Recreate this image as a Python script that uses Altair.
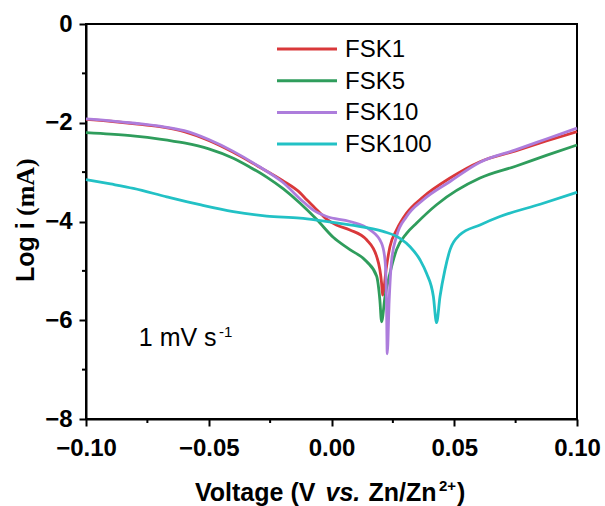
import altair as alt
import pandas as pd

series = ["FSK1", "FSK5", "FSK10", "FSK100"]
colors = ["#d9383a", "#2f9d5c", "#ad7ddc", "#22c1c5"]

fsk1_v = [-0.100, -0.090, -0.080, -0.070, -0.060, -0.050, -0.040, -0.030, -0.020, -0.0128,
          -0.0101, -0.0060, -0.0020, 0.0020, 0.0075, 0.0143, 0.0184, 0.0204, 0.0208, 0.0224, 0.0238, 0.0265,
          0.0306, 0.0374, 0.0483, 0.0605, 0.075, 0.0875, 0.100]
fsk1_i = [-1.93, -1.97, -2.02, -2.08, -2.18, -2.36, -2.60, -2.88, -3.17, -3.42,
          -3.56, -3.76, -3.95, -4.07, -4.17, -4.37, -4.71, -5.25, -5.49, -4.91, -4.51, -4.17,
          -3.83, -3.50, -3.12, -2.79, -2.57, -2.37, -2.18]

fsk5_v = [-0.100, -0.090, -0.080, -0.070, -0.060, -0.050, -0.040, -0.0332, -0.0264, -0.0196, -0.0128,
          -0.0060, 0.0007, 0.0075, 0.0143, 0.0184, 0.0197, 0.0204, 0.0218, 0.0238, 0.0265, 0.0306,
          0.0347, 0.0428, 0.0605, 0.075, 0.0875, 0.100]
fsk5_i = [-2.20, -2.23, -2.27, -2.33, -2.41, -2.53, -2.72, -2.90, -3.10, -3.34, -3.63,
          -3.96, -4.32, -4.57, -4.81, -5.11, -5.59, -6.03, -5.52, -5.05, -4.57, -4.24,
          -4.03, -3.66, -3.12, -2.88, -2.66, -2.45]

fsk10_v = [-0.100, -0.090, -0.080, -0.070, -0.060, -0.050, -0.040, -0.030, -0.020, -0.0115,
           -0.0074, -0.0020, 0.0075, 0.0157, 0.0204, 0.0218, 0.0224, 0.0227, 0.0235, 0.0245, 0.0265,
           0.0306, 0.0374, 0.0483, 0.0605, 0.075, 0.0875, 0.100]
fsk10_i = [-1.92, -1.96, -2.01, -2.07, -2.16, -2.34, -2.58, -2.87, -3.20, -3.60,
           -3.77, -3.90, -4.00, -4.17, -4.44, -4.78, -5.59, -6.68, -5.59, -4.78, -4.30,
           -3.90, -3.56, -3.19, -2.80, -2.55, -2.33, -2.11]

fsk100_v = [-0.100, -0.090, -0.0807, -0.0671, -0.0536, -0.040, -0.0264, -0.0128, -0.0060, 0.0075,
            0.0210, 0.0279, 0.0320, 0.0361, 0.0387, 0.0415, 0.0428, 0.0442, 0.0462, 0.0483, 0.0523,
            0.0605, 0.0686, 0.085, 0.100]
fsk100_i = [-3.15, -3.24, -3.33, -3.50, -3.66, -3.80, -3.89, -3.93, -3.97, -4.07,
            -4.20, -4.34, -4.51, -4.78, -5.05, -5.52, -6.05, -5.52, -4.98, -4.57, -4.27,
            -4.07, -3.90, -3.65, -3.41]

x_major = [-0.1, -0.05, 0.0, 0.05, 0.1]
x_minor = [-0.075, -0.025, 0.025, 0.075]
y_major = [-8, -6, -4, -2, 0]
y_minor = [-7, -5, -3, -1]

rows = []
for name, vs, ys in [("FSK1", fsk1_v, fsk1_i), ("FSK5", fsk5_v, fsk5_i),
                     ("FSK10", fsk10_v, fsk10_i), ("FSK100", fsk100_v, fsk100_i)]:
    for v, y in zip(vs, ys):
        rows.append({"series": name, "V": v, "logi": y})
df = pd.DataFrame(rows)

FONT = "Liberation Sans"
SERIF = "Liberation Serif"
W, H = 491, 395

xs = alt.Scale(domain=[-0.1, 0.1], nice=False, zero=False)
ys_ = alt.Scale(domain=[-8, 0], nice=False, zero=False)
cs = alt.Scale(domain=series, range=colors)

x_axis = alt.Axis(
    values=x_major,
    labelExpr="replace(format(datum.value, '.2f'), '-', '\u2212')",
    tickSize=7, tickWidth=2, tickColor="black", domainColor="black", domainWidth=2,
    labelFont=FONT, labelFontSize=24, labelFontWeight="bold", labelColor="black", labelPadding=10,
    labelFlush=False, grid=False, title=None,
)
y_axis = alt.Axis(
    values=y_major,
    labelExpr="replace(format(datum.value, 'd'), '-', '\u2212')",
    tickSize=7, tickWidth=2, tickColor="black", domainColor="black", domainWidth=2,
    labelFont=FONT, labelFontSize=24, labelFontWeight="bold", labelColor="black", labelPadding=7,
    labelFlush=False, grid=False, title=None,
)

lines = alt.Chart(df).mark_line(strokeWidth=2.8, interpolate="monotone").encode(
    x=alt.X("V:Q", scale=xs, axis=x_axis),
    y=alt.Y("logi:Q", scale=ys_, axis=y_axis),
    color=alt.Color("series:N", scale=cs, sort=series, legend=None),
    order=alt.Order("V:Q"),
)

xminor = alt.Chart(pd.DataFrame({"V": x_minor})).mark_rule(color="black", strokeWidth=2).encode(
    x=alt.X("V:Q", scale=xs), y=alt.value(H), y2=alt.value(H + 4))
yminor = alt.Chart(pd.DataFrame({"logi": y_minor})).mark_rule(color="black", strokeWidth=2).encode(
    y=alt.Y("logi:Q", scale=ys_), x=alt.value(0), x2=alt.value(-4))

# legend (drawn by hand so row spacing matches)
leg = alt.Chart(pd.DataFrame({"series": series, "idx": list(range(len(series)))})).transform_calculate(
    py="25 + 31.7 * datum.idx")
leg_lines = leg.mark_rule(strokeWidth=3).encode(
    x=alt.value(191), x2=alt.value(251), y=alt.Y("py:Q", scale=None),
    color=alt.Color("series:N", scale=cs, legend=None))
leg_text = leg.mark_text(font=FONT, fontSize=24, align="left", baseline="middle", color="black", dy=1).encode(
    x=alt.value(259), y=alt.Y("py:Q", scale=None), text="series:N")

ann = pd.DataFrame([{"V": -0.0785, "logi": -6.52, "t": "1 mV s"}])
ann_sup = pd.DataFrame([{"V": -0.0458, "logi": -6.33, "t": "-1"}])
txt = alt.Chart(ann).mark_text(font=FONT, fontSize=25, align="left", baseline="alphabetic", color="black").encode(
    x=alt.X("V:Q", scale=xs), y=alt.Y("logi:Q", scale=ys_), text="t:N")
sup = alt.Chart(ann_sup).mark_text(font=FONT, fontSize=15, align="left", baseline="alphabetic", color="black").encode(
    x=alt.X("V:Q", scale=xs), y=alt.Y("logi:Q", scale=ys_), text="t:N")

# axis titles composed from pieces (bold, italic "vs.", superscript, serif unit)
one = pd.DataFrame({"k": [0]})
def piece(text, px, py, size=25, style="normal", font=FONT, angle=0, weight="bold"):
    return alt.Chart(one).mark_text(
        text=text, font=font, fontSize=size, fontWeight=weight, fontStyle=style,
        align="left", baseline="alphabetic", color="black", angle=angle,
    ).encode(x=alt.value(px), y=alt.value(py))

TB = 477
xt = [
    piece("Voltage (V", 109, TB),
    piece("vs.", 239.5, TB, style="italic"),
    piece("Zn/Zn", 282.5, TB),
    piece("2+", 353, TB - 10, size=15),
    piece(")", 371, TB),
]
yt = [
    piece("Log i", -52, 258, angle=270),
    piece("(mA)", -52, 192, font=SERIF, size=26, angle=270),
]

chart = alt.layer(lines, xminor, yminor, leg_lines, leg_text, txt, sup, *xt, *yt).properties(
    width=W, height=H,
    autosize=alt.AutoSizeParams(type="none"),
    padding={"left": 86, "top": 24, "right": 28, "bottom": 87},
).configure_view(stroke="black", strokeWidth=2)

chart.save("out.html", embed_options={"renderer": "svg", "actions": False})
